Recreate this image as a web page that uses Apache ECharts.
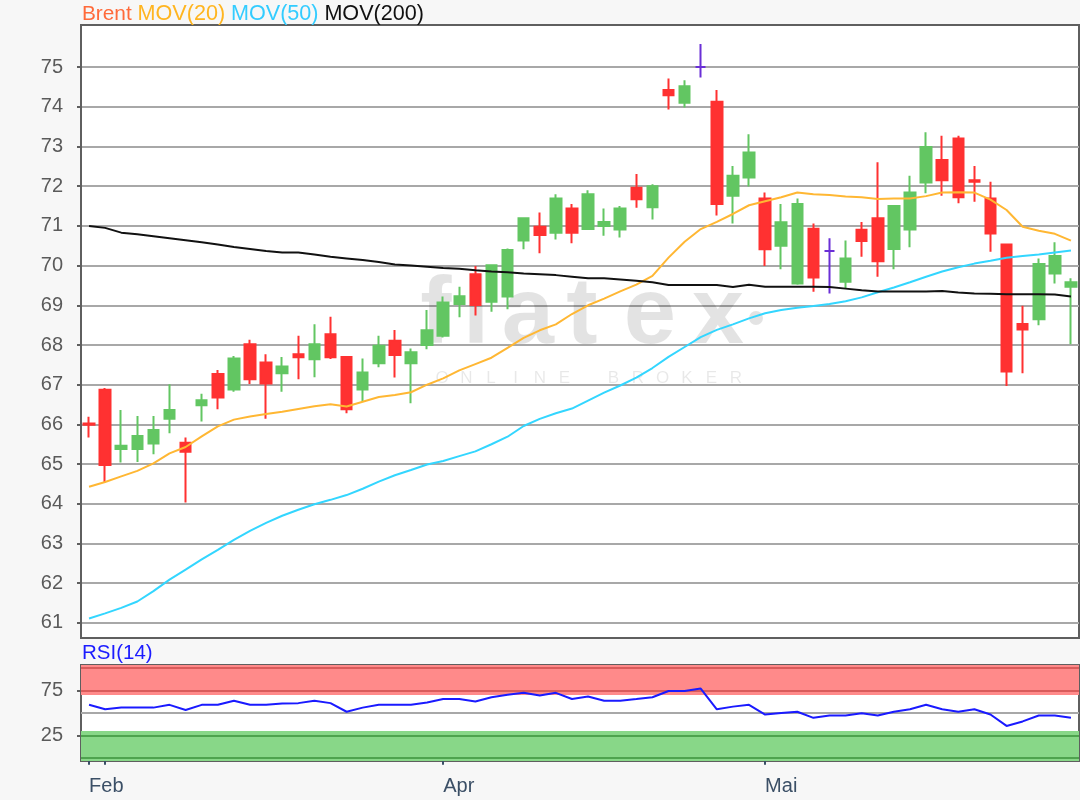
<!DOCTYPE html>
<html>
<head>
<meta charset="utf-8">
<script src="https://cdn.jsdelivr.net/npm/echarts@6/dist/echarts.min.js"></script>
<style>
html,body{margin:0;padding:0;background:#f7f7f7;}
#c{width:1080px;height:800px;}
</style>
</head>
<body>
<div id="c"></div>
<script>
// ---------- data ----------
const dates = [
  '2019-02-28','2019-03-01','2019-03-04','2019-03-05','2019-03-06','2019-03-07','2019-03-08',
  '2019-03-11','2019-03-12','2019-03-13','2019-03-14','2019-03-15',
  '2019-03-18','2019-03-19','2019-03-20','2019-03-21','2019-03-22',
  '2019-03-25','2019-03-26','2019-03-27','2019-03-28','2019-03-29',
  '2019-04-01','2019-04-02','2019-04-03','2019-04-04','2019-04-05',
  '2019-04-08','2019-04-09','2019-04-10','2019-04-11','2019-04-12',
  '2019-04-15','2019-04-16','2019-04-17','2019-04-18',
  '2019-04-23','2019-04-24','2019-04-25','2019-04-26',
  '2019-04-29','2019-04-30','2019-05-01','2019-05-02','2019-05-03',
  '2019-05-07','2019-05-08','2019-05-09','2019-05-10',
  '2019-05-13','2019-05-14','2019-05-15','2019-05-16','2019-05-17',
  '2019-05-20','2019-05-21','2019-05-22','2019-05-23','2019-05-24',
  '2019-05-28','2019-05-29','2019-05-30'
];
const opens = [66.02,66.87,65.38,65.38,65.52,66.14,65.54,66.48,67.27,66.88,68.02,67.56,67.29,67.77,67.64,68.27,67.70,66.88,67.54,68.11,67.54,68.00,68.23,69.03,69.78,69.09,69.22,70.63,70.98,70.83,71.44,70.92,71.00,70.91,71.96,71.47,74.42,74.10,75.00,74.13,71.76,72.22,71.69,70.50,69.55,70.93,70.37,69.59,70.90,71.19,70.42,70.91,72.09,72.66,73.20,72.15,71.69,70.53,68.53,68.65,69.80,69.47];
const closes = [65.99,64.98,65.46,65.71,65.86,66.36,65.31,66.61,66.68,67.66,67.14,67.03,67.46,67.69,68.02,67.69,66.38,67.31,67.98,67.75,67.82,68.37,69.07,69.23,69.01,70.01,70.39,71.19,70.77,71.69,70.83,71.80,71.10,71.44,71.67,72.00,74.29,74.52,75.00,71.55,72.26,72.85,70.41,71.09,71.55,69.70,70.37,70.18,70.62,70.11,71.50,71.84,72.99,72.15,71.72,72.11,70.81,67.33,68.39,70.04,70.24,69.58];
const lows = [65.67,64.53,65.04,65.05,65.25,65.78,64.03,66.07,66.38,66.82,67.02,66.14,66.82,67.14,67.19,67.65,66.28,66.57,67.44,67.18,66.53,67.89,68.19,68.70,68.74,68.84,68.90,70.41,70.31,70.66,70.56,70.90,70.75,70.71,71.46,71.16,73.93,73.98,74.74,71.26,71.06,71.99,69.99,69.91,69.52,69.34,69.30,69.43,70.22,69.72,69.91,70.46,71.82,71.76,71.57,71.61,70.35,66.97,67.29,68.50,69.55,68.02];
const highs = [66.19,66.92,66.36,66.21,66.21,67.01,65.67,66.77,67.37,67.72,68.13,67.77,67.70,68.23,68.52,68.71,67.72,67.66,68.23,68.38,67.91,68.88,69.22,69.47,69.99,70.03,70.43,71.21,71.34,71.80,71.55,71.90,71.44,71.50,72.31,72.05,74.71,74.67,75.58,74.42,72.51,73.31,71.84,71.55,71.69,71.06,70.69,70.63,71.10,72.60,71.52,72.26,73.36,73.27,73.27,72.51,72.11,70.55,68.99,70.18,70.59,69.68];
const ma20 = [64.43,64.55,64.69,64.83,65.02,65.27,65.43,65.70,65.95,66.12,66.20,66.26,66.32,66.39,66.46,66.51,66.45,66.57,66.69,66.74,66.81,67.00,67.16,67.36,67.52,67.68,67.93,68.18,68.37,68.52,68.78,69.00,69.17,69.35,69.52,69.74,70.20,70.60,70.92,71.10,71.30,71.52,71.62,71.72,71.84,71.80,71.78,71.74,71.72,71.68,71.69,71.69,71.75,71.84,71.85,71.84,71.66,71.40,70.98,70.88,70.80,70.63];
const ma50 = [61.11,61.24,61.38,61.54,61.80,62.09,62.34,62.60,62.84,63.09,63.32,63.52,63.70,63.85,63.99,64.10,64.22,64.38,64.56,64.72,64.85,64.99,65.08,65.20,65.32,65.50,65.69,65.96,66.14,66.28,66.40,66.60,66.80,66.98,67.18,67.42,67.70,67.95,68.20,68.38,68.52,68.67,68.80,68.88,68.94,68.98,69.03,69.10,69.20,69.33,69.45,69.58,69.72,69.85,69.96,70.05,70.12,70.20,70.24,70.28,70.33,70.38];
const ma200 = [71.00,70.95,70.83,70.79,70.74,70.69,70.64,70.59,70.53,70.47,70.42,70.37,70.33,70.33,70.28,70.22,70.18,70.14,70.09,70.03,70.00,69.97,69.94,69.92,69.88,69.85,69.83,69.80,69.78,69.76,69.72,69.68,69.68,69.65,69.62,69.58,69.51,69.51,69.51,69.51,69.46,69.52,69.47,69.47,69.47,69.47,69.46,69.42,69.38,69.35,69.35,69.35,69.35,69.36,69.32,69.30,69.29,69.28,69.28,69.28,69.27,69.22];
const rsi = [59.1,54.1,56.0,56.0,56.0,59.1,53.3,59.1,59.1,63.7,59.1,59.1,60.6,61.0,63.7,61.0,51.4,56.0,59.1,59.1,59.1,61.8,65.6,65.6,62.9,67.6,70.3,72.5,69.5,72.5,65.6,68.3,63.7,63.7,65.6,67.6,74.5,74.5,77.2,54.1,57.1,59.1,48.3,50.1,51.4,44.6,47.2,47.2,49.6,47.2,51.4,54.1,59.1,54.1,51.4,54.1,48.3,35.6,40.6,47.2,47.2,44.6];
const priceTicks = [61,62,63,64,65,66,67,68,69,70,71,72,73,74,75];
const rsiTicks = [25,75];
const tickDates = ['2019-02-28','2019-03-01','2019-04-01','2019-05-01'];
const labelDates = ['2019-02-28','2019-04-01','2019-05-01'];
const labelTexts = ['Feb','Apr','Mai'];

// ---------- styles ----------
const FONT = "'Liberation Sans', Arial, sans-serif";
const UP = '#62c662', DOWN = '#ff3131', DOJI = '#6a2fd6';
const AXIS = '#5f5f5f';

const candleData = dates.map((d, i) => {
  const v = [opens[i], closes[i], lows[i], highs[i]];
  if (opens[i] === closes[i]) {
    return { value: v, itemStyle: { color: DOJI, color0: DOJI, borderColor: DOJI, borderColor0: DOJI, borderColorDoji: DOJI } };
  }
  return v;
});

// watermark (logo text) elements
const wm = [];
const logo = ['f','l','a','t','e','x'];
const logoX = [436, 476, 528, 582, 650, 718];
logo.forEach((ch, k) => wm.push({
  type: 'text', z: 1, silent: true,
  style: { text: ch, x: logoX[k], y: 364, align: 'center', verticalAlign: 'bottom',
    font: "bold 94px 'Liberation Sans', Arial, sans-serif", fill: 'rgba(0,0,0,0.11)' }
}));
wm.push({ type: 'circle', z: 1, silent: true, shape: { cx: 756, cy: 318, r: 7 }, style: { fill: 'rgba(0,0,0,0.11)' } });
'ONLINE BROKER'.split('').forEach((ch, k) => wm.push({
  type: 'text', z: 1, silent: true,
  style: { text: ch, x: 442 + k * 24.5, y: 378, align: 'center', verticalAlign: 'middle',
    font: "17px 'Liberation Sans', Arial, sans-serif", fill: 'rgba(0,0,0,0.09)' }
}));
wm.push({
  type: 'text', silent: true, left: 82, top: 643,
  style: { text: 'RSI(14)', font: "20.5px 'Liberation Sans', Arial, sans-serif", fill: '#1c1cff' }
});

const chart = echarts.init(document.getElementById('c'), null, { renderer: 'canvas' });
chart.setOption({
  animation: false,
  backgroundColor: '#f7f7f7',
  textStyle: { fontFamily: FONT },
  title: {
    left: 82, top: 3, padding: 0,
    text: '{a|Brent} {b|MOV(20)} {c|MOV(50)} {d|MOV(200)}',
    textStyle: {
      fontSize: 21, fontWeight: 'normal', fontFamily: FONT,
      rich: {
        a: { color: '#ff6a3a', fontSize: 20.8, fontFamily: FONT },
        b: { color: '#ffb520', fontSize: 21.6, fontFamily: FONT },
        c: { color: '#33ccff', fontSize: 21.6, fontFamily: FONT },
        d: { color: '#111111', fontSize: 21.6, fontFamily: FONT }
      }
    }
  },
  graphic: wm,
  grid: [
    { left: 81, right: 1, top: 25, height: 613, show: true, backgroundColor: '#ffffff', borderColor: AXIS, borderWidth: 2 },
    { left: 81, right: 1, top: 665, height: 96, show: true, backgroundColor: '#ffffff', borderColor: AXIS, borderWidth: 2 }
  ],
  xAxis: [
    { gridIndex: 0, type: 'category', data: dates, boundaryGap: true,
      axisLine: { show: false }, axisTick: { show: false }, axisLabel: { show: false }, splitLine: { show: false } },
    { gridIndex: 1, type: 'category', data: dates, boundaryGap: true,
      axisLine: { show: false },
      axisTick: { show: true, alignWithLabel: true, length: 7,
        interval: (i, v) => tickDates.includes(v),
        lineStyle: { color: '#3a4f66', width: 2 } },
      axisLabel: { show: true, interval: (i, v) => labelDates.includes(v),
        formatter: (v) => labelTexts[labelDates.indexOf(v)] || '',
        align: 'left', margin: 15, fontSize: 20, color: '#3b4f66', fontFamily: FONT },
      splitLine: { show: false } }
  ],
  yAxis: [
    { gridIndex: 0, type: 'value', min: 60.62, max: 76.06,
      axisLine: { show: true, lineStyle: { color: AXIS, width: 2 } },
      axisTick: { show: true, length: 4, customValues: priceTicks, lineStyle: { color: AXIS, width: 2 } },
      axisLabel: { customValues: priceTicks, margin: 18, fontSize: 20, color: '#5a5a5a', fontFamily: FONT },
      splitLine: { show: true, lineStyle: { color: '#a8a8a8', width: 2 } } },
    { gridIndex: 1, type: 'value', min: -3.5, max: 103.5,
      axisLine: { show: true, lineStyle: { color: AXIS, width: 2 } },
      axisTick: { show: true, length: 4, customValues: rsiTicks, lineStyle: { color: AXIS, width: 2 } },
      axisLabel: { customValues: rsiTicks, margin: 18, fontSize: 20, color: '#5a5a5a', fontFamily: FONT },
      splitLine: { show: false } }
  ],
  series: [
    { name: 'Brent', type: 'candlestick', xAxisIndex: 0, yAxisIndex: 0, data: candleData,
      barWidth: 11, z: 3,
      itemStyle: { color: UP, color0: DOWN, borderColor: UP, borderColor0: DOWN, borderWidth: 2 } },
    { name: 'MOV(20)', type: 'line', xAxisIndex: 0, yAxisIndex: 0, data: ma20, symbol: 'none',
      lineStyle: { color: '#ffb733', width: 2 }, z: 4 },
    { name: 'MOV(50)', type: 'line', xAxisIndex: 0, yAxisIndex: 0, data: ma50, symbol: 'none',
      lineStyle: { color: '#33d6ff', width: 2 }, z: 4 },
    { name: 'MOV(200)', type: 'line', xAxisIndex: 0, yAxisIndex: 0, data: ma200, symbol: 'none',
      lineStyle: { color: '#111111', width: 2 }, z: 4 },
    { name: 'RSI(14)', type: 'line', xAxisIndex: 1, yAxisIndex: 1, data: rsi, symbol: 'none',
      lineStyle: { color: '#1a1aff', width: 2 }, z: 5,
      markArea: { silent: true,
        data: [
          [{ yAxis: 70, itemStyle: { color: '#ff8a8a' } }, { yAxis: 103.5 }],
          [{ yAxis: -3.5, itemStyle: { color: '#88d788' } }, { yAxis: 30 }]
        ] },
      markLine: { silent: true, symbol: ['none', 'none'], label: { show: false },
        lineStyle: { type: 'solid', width: 2 },
        data: [
          { yAxis: 100, lineStyle: { color: '#d95b5b', type: 'solid', width: 2 } },
          { yAxis: 75, lineStyle: { color: '#d95b5b', type: 'solid', width: 2 } },
          { yAxis: 50, lineStyle: { color: '#a8a8a8', type: 'solid', width: 2 } },
          { yAxis: 25, lineStyle: { color: '#4ea34e', type: 'solid', width: 2 } },
          { yAxis: 0, lineStyle: { color: '#4ea34e', type: 'solid', width: 2 } }
        ] } }
  ]
});
</script>
</body>
</html>
